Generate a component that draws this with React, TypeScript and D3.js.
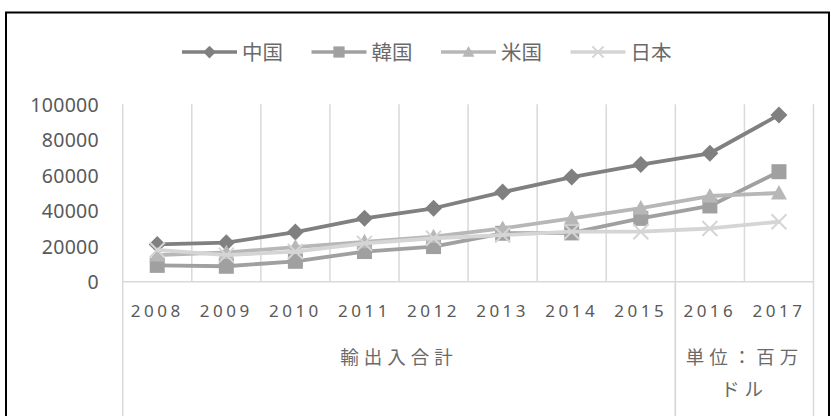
import React from 'react';
import * as d3 from 'd3';

// 輸出入合計 (単位：百万ドル)
const years = ['2008', '2009', '2010', '2011', '2012', '2013', '2014', '2015', '2016', '2017'];
const china = [21000, 22000, 28000, 35700, 41400, 50500, 59000, 66000, 72400, 94000];
const korea = [9200, 8700, 11500, 17000, 19800, 27300, 27500, 35700, 42700, 62000];
const usa = [15000, 16500, 19500, 22500, 25400, 30000, 35700, 41500, 48300, 50000];
const japan = [17900, 15000, 17000, 21600, 24500, 26300, 28200, 28200, 30000, 33800];
const yTicks = [0, 20000, 40000, 60000, 80000, 100000];

// second level of the category axis
const groupLabels = [['輸出入合計'], ['単位：百万', 'ドル']];
const groupFirst = ['2008', '2016'];
const groupLast = ['2015', '2017'];

const seriesNames = ['中国', '韓国', '米国', '日本'];
const seriesValues = [china, korea, usa, japan];
const seriesColors = ['#808080', '#a0a0a0', '#b7b7b7', '#d5d5d5'];
const seriesMarkers = ['diamond', 'square', 'triangle', 'x'];

const FONT = '"Noto Sans", "Noto Sans CJK JP", sans-serif';
const TEXT = '#595959';
const CJK_TEXT = '#6a6a6a';
const GRID = '#d9d9d9';

function Marker({ kind, x, y, color, s = 1 }) {
  if (kind === 'diamond') {
    const r = 8.5 * s;
    return <path d={`M${x},${y - r}L${x + r},${y}L${x},${y + r}L${x - r},${y}Z`} fill={color} />;
  }
  if (kind === 'square') {
    const r = 7.5 * s;
    return <rect x={x - r} y={y - r} width={r * 2} height={r * 2} fill={color} />;
  }
  if (kind === 'triangle') {
    const w = 8 * s;
    const h = 8 * s;
    return <path d={`M${x},${y - h}L${x + w},${y + h * 0.8}L${x - w},${y + h * 0.8}Z`} fill={color} />;
  }
  const r = 7.5 * s;
  return (
    <path
      d={`M${x - r},${y - r}L${x + r},${y + r}M${x + r},${y - r}L${x - r},${y + r}`}
      stroke={color}
      strokeWidth={2}
      fill="none"
    />
  );
}

export default function App() {
  const left = 122.7;
  const right = 813.5;
  const top = 104.3;
  const bottom = 281.7;

  const x = d3.scaleBand().domain(years).range([left, right]);
  const y = d3.scaleLinear().domain([0, 100000]).range([bottom, top]);
  const cx = (d) => x(d) + x.bandwidth() / 2;

  const line = d3
    .line()
    .x((d, i) => cx(years[i]))
    .y((d) => y(d));

  const bounds = years.map((d) => x(d)).concat([right]);

  return (
    <svg
      width={831}
      height={416}
      style={{ position: 'absolute', left: 0, top: 0, background: '#fff' }}
      fontFamily={FONT}
    >
      <rect x={6} y={12.5} width={823} height={420} fill="#fff" stroke="#000" strokeWidth={2} />

      {/* legend */}
      {seriesNames.map((name, i) => {
        const lx = 182 + i * 129.5;
        return (
          <g key={name}>
            <line x1={lx} x2={lx + 55} y1={52} y2={52} stroke={seriesColors[i]} strokeWidth={3.5} />
            <Marker kind={seriesMarkers[i]} x={lx + 27.5} y={52} color={seriesColors[i]} s={0.75} />
            <text x={lx + 60} y={52} dominantBaseline="central" fontSize={20.5} fill={CJK_TEXT}>
              {name}
            </text>
          </g>
        );
      })}

      {/* vertical gridlines */}
      {bounds.map((b, i) => (
        <line key={i} x1={b} x2={b} y1={top} y2={bottom} stroke={GRID} strokeWidth={1.5} />
      ))}
      <line x1={left} x2={right} y1={bottom} y2={bottom} stroke={GRID} strokeWidth={1.5} />

      {/* y axis labels */}
      {yTicks.map((t) => (
        <text
          key={t}
          x={99}
          y={y(t)}
          textAnchor="end"
          dominantBaseline="central"
          fontSize={19.5}
          letterSpacing={0.3}
          fill={TEXT}
        >
          {t}
        </text>
      ))}

      {/* category labels */}
      {years.map((d) => (
        <text
          key={d}
          x={cx(d)}
          y={310}
          textAnchor="middle"
          dominantBaseline="central"
          fontSize={17}
          letterSpacing={3.5}
          fill={TEXT}
        >
          {d}
        </text>
      ))}

      {/* group separators and labels */}
      {groupFirst.map((g, i) => {
        const x0 = x(g);
        const x1 = x(groupLast[i]) + x.bandwidth();
        return (
          <g key={g}>
            <line x1={x0} x2={x0} y1={bottom} y2={416} stroke={GRID} strokeWidth={1.5} />
            <line x1={x1} x2={x1} y1={bottom} y2={416} stroke={GRID} strokeWidth={1.5} />
            {groupLabels[i].map((t, j) => (
              <text
                key={t}
                x={(x0 + x1) / 2}
                y={356 + j * 32}
                textAnchor="middle"
                dominantBaseline="central"
                fontSize={18.5}
                letterSpacing={5}
                fill={CJK_TEXT}
              >
                {t}
              </text>
            ))}
          </g>
        );
      })}

      {/* series */}
      {seriesValues.map((vals, i) => (
        <g key={seriesNames[i]}>
          <path
            d={line(vals)}
            fill="none"
            stroke={seriesColors[i]}
            strokeWidth={3.8}
            strokeLinejoin="round"
            strokeLinecap="round"
          />
          {vals.map((v, k) => (
            <Marker key={k} kind={seriesMarkers[i]} x={cx(years[k])} y={y(v)} color={seriesColors[i]} />
          ))}
        </g>
      ))}
    </svg>
  );
}
